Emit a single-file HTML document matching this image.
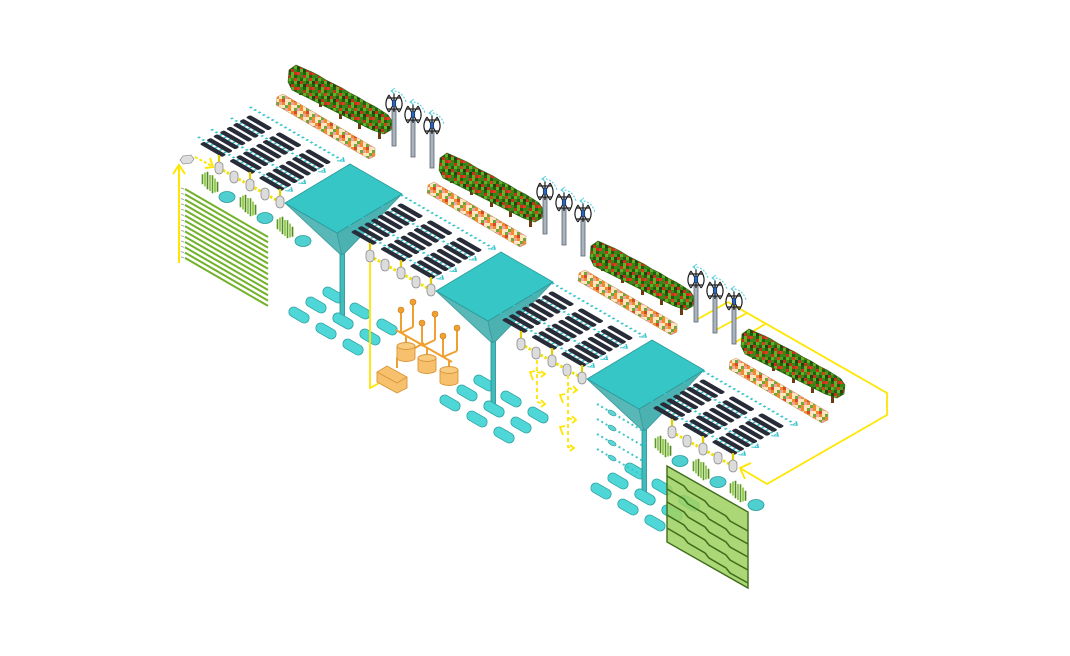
<!DOCTYPE html>
<html><head><meta charset="utf-8">
<style>html,body{margin:0;padding:0;background:#fff;}svg{display:block}</style>
</head>
<body>
<svg width="1070" height="656" viewBox="0 0 1070 656" xmlns="http://www.w3.org/2000/svg" xmlns:xlink="http://www.w3.org/1999/xlink">
<defs>
  <pattern id="hp" width="15" height="15" patternUnits="userSpaceOnUse">
    <rect width="15" height="15" fill="#3a8616"/>
    <rect x="3" y="0" width="3" height="3" fill="#c8321c"/>
    <rect x="6" y="0" width="3" height="3" fill="#62b026"/>
    <rect x="9" y="0" width="3" height="3" fill="#245e0e"/>
    <rect x="0" y="3" width="3" height="3" fill="#245e0e"/>
    <rect x="3" y="3" width="3" height="3" fill="#62b026"/>
    <rect x="9" y="3" width="3" height="3" fill="#d8401f"/>
    <rect x="12" y="3" width="3" height="3" fill="#4f9c1e"/>
    <rect x="0" y="6" width="3" height="3" fill="#c8321c"/>
    <rect x="6" y="6" width="3" height="3" fill="#245e0e"/>
    <rect x="9" y="6" width="3" height="3" fill="#62b026"/>
    <rect x="12" y="6" width="3" height="3" fill="#1d470b"/>
    <rect x="0" y="9" width="3" height="3" fill="#62b026"/>
    <rect x="3" y="9" width="3" height="3" fill="#1d470b"/>
    <rect x="6" y="9" width="3" height="3" fill="#c8321c"/>
    <rect x="12" y="9" width="3" height="3" fill="#245e0e"/>
    <rect x="3" y="12" width="3" height="3" fill="#245e0e"/>
    <rect x="6" y="12" width="3" height="3" fill="#62b026"/>
    <rect x="9" y="12" width="3" height="3" fill="#c8321c"/>
    <rect x="12" y="12" width="3" height="3" fill="#d8401f"/>
  </pattern>
  <pattern id="fp" width="12" height="12" patternUnits="userSpaceOnUse">
    <rect width="12" height="12" fill="#fbe6c0"/>
    <rect x="0" y="0" width="3" height="3" fill="#f08a2c"/>
    <rect x="6" y="0" width="3" height="3" fill="#6fa83a"/>
    <rect x="9" y="0" width="3" height="3" fill="#f2a1a1"/>
    <rect x="3" y="3" width="3" height="3" fill="#f08a2c"/>
    <rect x="6" y="3" width="3" height="3" fill="#d9482b"/>
    <rect x="0" y="6" width="3" height="3" fill="#6fa83a"/>
    <rect x="3" y="6" width="3" height="3" fill="#f2a1a1"/>
    <rect x="6" y="6" width="3" height="3" fill="#f08a2c"/>
    <rect x="0" y="9" width="3" height="3" fill="#f08a2c"/>
    <rect x="9" y="9" width="3" height="3" fill="#6fa83a"/>
  </pattern>

  <g id="hedge">
    <rect x="299" y="88" width="3" height="7" fill="#6b3a12"/>
    <rect x="319" y="100" width="3" height="7" fill="#6b3a12"/>
    <rect x="339" y="111" width="3" height="8" fill="#6b3a12"/>
    <rect x="358" y="121" width="3" height="8" fill="#6b3a12"/>
    <rect x="378" y="131" width="3" height="8" fill="#6b3a12"/>
    <polygon points="289,70 296,65 305,69 312,72 318,75 326,80 334,84 342,88 350,93 358,97 366,102 374,106 382,111 388,115 392,121 391,130 384,134 372,130 360,124 348,118 336,112 324,106 312,100 300,94 292,90 288,82" fill="url(#hp)" stroke="#2c5e10" stroke-width="0.6"/>
  </g>
  <g id="flower">
    <polygon points="277,97 283,94 375,148 375,156 369,159 276,105" fill="url(#fp)" stroke="#c99060" stroke-width="0.5"/>
  </g>

  <g id="tb">
    <rect x="-2" y="6" width="4" height="36" fill="#a9b4bf" stroke="#5d6670" stroke-width="0.8"/>
    <path d="M-5,-9 C-9,-3 -9,3 -5,8 M5,-9 C9,-3 9,3 5,8 M0,-11 L0,8 M-7,-6 L7,-6 M-7,5 L7,5 M-5,-9 L5,8 M5,-9 L-5,8" stroke="#1e1e1e" stroke-width="1.2" fill="none"/>
    <rect x="-1.8" y="-4" width="3.6" height="7" fill="#2a66c0" stroke="#111" stroke-width="0.5"/>
    <path d="M-3,-13 Q8,-14 12,-2" stroke="#5fd0dc" stroke-width="1.2" stroke-dasharray="2 1.6" fill="none"/>
    <polyline points="1,-16 -3,-13 1,-10" stroke="#5fd0dc" stroke-width="1" fill="none"/>
  </g>
  <g id="tbs">
    <use xlink:href="#tb" transform="translate(394,104)"/>
    <use xlink:href="#tb" transform="translate(413,115)"/>
    <use xlink:href="#tb" transform="translate(432,126)"/>
  </g>

  <g id="fun">
    <polygon points="285,203 337,233 342,256" fill="#58b7b7" stroke="#3a9a9a" stroke-width="0.8"/>
    <polygon points="337,233 402,194 342,256" fill="#4cb1b1" stroke="#3a9a9a" stroke-width="0.8"/>
    <polygon points="285,203 350,164 402,194 337,233" fill="#36c6c6" stroke="#2a9a9a" stroke-width="0.8"/>
    <rect x="340" y="254" width="4.5" height="67" fill="#3fbcbc" stroke="#2a8c8c" stroke-width="0.8"/>
  </g>

  <g id="cp"><rect x="-11" y="-5" width="22" height="10" rx="5" fill="#4fd6d6" stroke="#2ea3a3" stroke-width="0.8"/></g>
  <g id="caps">
    <use xlink:href="#cp" transform="translate(299,315) rotate(30)"/>
    <use xlink:href="#cp" transform="translate(316,305) rotate(30)"/>
    <use xlink:href="#cp" transform="translate(333,295) rotate(30)"/>
    <use xlink:href="#cp" transform="translate(326,331) rotate(30)"/>
    <use xlink:href="#cp" transform="translate(343,321) rotate(30)"/>
    <use xlink:href="#cp" transform="translate(360,311) rotate(30)"/>
    <use xlink:href="#cp" transform="translate(353,347) rotate(30)"/>
    <use xlink:href="#cp" transform="translate(370,337) rotate(30)"/>
    <use xlink:href="#cp" transform="translate(387,327) rotate(30)"/>
  </g>

  <g id="arr" transform="matrix(0.866 0.5 -0.866 0.5 250 115)">
    <g stroke="#35c4cb" stroke-width="2.4" stroke-dasharray="2 3" fill="none">
      <line x1="-8" y1="-8" x2="98" y2="-8"/>
      <line x1="-8" y1="13.9" x2="98" y2="13.9"/>
      <line x1="-8" y1="36.7" x2="98" y2="36.7"/>
      <line x1="-8" y1="51.9" x2="98" y2="51.9"/>
    </g>
    <g stroke="#35c4cb" stroke-width="1.3" fill="none">
      <polyline points="96,-11.5 100.5,-8 96,-4.5"/>
      <polyline points="96,10.4 100.5,13.9 96,17.4"/>
      <polyline points="96,33.2 100.5,36.7 96,40.2"/>
      <polyline points="96,48.4 100.5,51.9 96,55.4"/>
    </g>
    <g fill="#272c38">
      <rect x="0" y="0" width="26" height="5" rx="1.8"/>
      <rect x="0" y="7.6" width="26" height="5" rx="1.8"/>
      <rect x="0" y="15.2" width="26" height="5" rx="1.8"/>
      <rect x="0" y="22.8" width="26" height="5" rx="1.8"/>
      <rect x="0" y="30.4" width="26" height="5" rx="1.8"/>
      <rect x="0" y="38" width="26" height="5" rx="1.8"/>
      <rect x="0" y="45.6" width="26" height="5" rx="1.8"/>
      <rect x="0" y="53.2" width="26" height="5" rx="1.8"/>
      <rect x="34" y="0" width="26" height="5" rx="1.8"/>
      <rect x="34" y="7.6" width="26" height="5" rx="1.8"/>
      <rect x="34" y="15.2" width="26" height="5" rx="1.8"/>
      <rect x="34" y="22.8" width="26" height="5" rx="1.8"/>
      <rect x="34" y="30.4" width="26" height="5" rx="1.8"/>
      <rect x="34" y="38" width="26" height="5" rx="1.8"/>
      <rect x="34" y="45.6" width="26" height="5" rx="1.8"/>
      <rect x="34" y="53.2" width="26" height="5" rx="1.8"/>
      <rect x="68" y="0" width="26" height="5" rx="1.8"/>
      <rect x="68" y="7.6" width="26" height="5" rx="1.8"/>
      <rect x="68" y="15.2" width="26" height="5" rx="1.8"/>
      <rect x="68" y="22.8" width="26" height="5" rx="1.8"/>
      <rect x="68" y="30.4" width="26" height="5" rx="1.8"/>
      <rect x="68" y="38" width="26" height="5" rx="1.8"/>
      <rect x="68" y="45.6" width="26" height="5" rx="1.8"/>
      <rect x="68" y="53.2" width="26" height="5" rx="1.8"/>
    </g>
  </g>

  <g id="nd">
    <line x1="219" y1="168" x2="280" y2="202" stroke="#f2e200" stroke-width="3" stroke-dasharray="2.5 2"/>
    <g stroke="#e2cf00" stroke-width="2.2">
      <line x1="219" y1="155" x2="219" y2="168"/>
      <line x1="250" y1="172" x2="250" y2="185"/>
      <line x1="280" y1="189" x2="280" y2="202"/>
    </g>
    <g fill="#dcdcdc" stroke="#8c8c8c" stroke-width="0.8">
      <rect x="215" y="162" width="8" height="12" rx="4"/>
      <rect x="230" y="171" width="8" height="12" rx="4"/>
      <rect x="246" y="179" width="8" height="12" rx="4"/>
      <rect x="261" y="188" width="8" height="12" rx="4"/>
      <rect x="276" y="196" width="8" height="12" rx="4"/>
    </g>
  </g>

  <g id="pl">
    <line x1="-7.5" y1="-8.75" x2="-7.5" y2="1.25" stroke="#5c9a26" stroke-width="1.7"/>
    <line x1="-5" y1="-10.5" x2="-5" y2="3.5" stroke="#8cc63f" stroke-width="1.7"/>
    <line x1="-2.5" y1="-11.25" x2="-2.5" y2="6.25" stroke="#4e8a1e" stroke-width="1.7"/>
    <line x1="0" y1="-8" x2="0" y2="8" stroke="#8cc63f" stroke-width="1.7"/>
    <line x1="2.5" y1="-7.75" x2="2.5" y2="10.25" stroke="#5c9a26" stroke-width="1.7"/>
    <line x1="5" y1="-4.5" x2="5" y2="9.5" stroke="#8cc63f" stroke-width="1.7"/>
    <line x1="7.5" y1="-1.25" x2="7.5" y2="8.75" stroke="#4e8a1e" stroke-width="1.7"/>
  </g>
  <g id="pp">
    <use xlink:href="#pl" transform="translate(210,183)"/>
    <use xlink:href="#pl" transform="translate(248,206)"/>
    <use xlink:href="#pl" transform="translate(285,228)"/>
    <g fill="#4fcfcf" stroke="#2a9d9d" stroke-width="0.8">
      <ellipse cx="227" cy="197" rx="8" ry="5.5"/>
      <ellipse cx="265" cy="218" rx="8" ry="5.5"/>
      <ellipse cx="303" cy="241" rx="8" ry="5.5"/>
    </g>
  </g>
</defs>

<!-- yellow loop (module 3) -->
<g stroke="#ffe600" stroke-width="1.8" fill="none">
  <line x1="698" y1="319" x2="728" y2="302"/>
  <line x1="716" y1="330" x2="747" y2="313"/>
  <line x1="736" y1="342" x2="765" y2="324"/>
  <polyline points="728,302 887,393 887,415 767,484 740,468"/>
  <polyline points="751,463 740,468 745,479"/>
</g>

<!-- hedges, flower strips -->
<use xlink:href="#hedge"/>
<use xlink:href="#hedge" transform="translate(151,88)"/>
<use xlink:href="#hedge" transform="translate(302,176)"/>
<use xlink:href="#hedge" transform="translate(453,264)"/>
<use xlink:href="#flower"/>
<use xlink:href="#flower" transform="translate(151,88)"/>
<use xlink:href="#flower" transform="translate(302,176)"/>
<use xlink:href="#flower" transform="translate(453,264)"/>

<!-- turbines -->
<use xlink:href="#tbs"/>
<use xlink:href="#tbs" transform="translate(151,88)"/>
<use xlink:href="#tbs" transform="translate(302,176)"/>

<!-- capsule grids + funnels -->
<use xlink:href="#caps"/>
<use xlink:href="#caps" transform="translate(151,88)"/>
<use xlink:href="#caps" transform="translate(302,176)"/>
<use xlink:href="#fun"/>
<use xlink:href="#fun" transform="translate(151,88)"/>
<use xlink:href="#fun" transform="translate(302,176)"/>
<g>
  <use xlink:href="#cp" transform="translate(343,321) rotate(30)"/>
  <use xlink:href="#cp" transform="translate(494,409) rotate(30)"/>
  <use xlink:href="#cp" transform="translate(645,497) rotate(30)"/>
</g>

<!-- solar arrays -->
<use xlink:href="#arr"/>
<use xlink:href="#arr" transform="translate(151,88)"/>
<use xlink:href="#arr" transform="translate(302,176)"/>
<use xlink:href="#arr" transform="translate(453,264)"/>

<!-- nodes -->
<use xlink:href="#nd"/>
<use xlink:href="#nd" transform="translate(151,88)"/>
<use xlink:href="#nd" transform="translate(302,176)"/>
<use xlink:href="#nd" transform="translate(453,264)"/>

<!-- plants/ponds -->
<use xlink:href="#pp"/>
<use xlink:href="#pp" transform="translate(453,264)"/>

<!-- left hatch panel -->
<g stroke="#72b22a" stroke-width="2">
  <line x1="185" y1="189" x2="268" y2="237"/>
  <line x1="185" y1="194.3" x2="268" y2="242.3"/>
  <line x1="185" y1="199.6" x2="268" y2="247.6"/>
  <line x1="185" y1="204.9" x2="268" y2="252.9"/>
  <line x1="185" y1="210.2" x2="268" y2="258.2"/>
  <line x1="185" y1="215.5" x2="268" y2="263.5"/>
  <line x1="185" y1="220.8" x2="268" y2="268.8"/>
  <line x1="185" y1="226.1" x2="268" y2="274.1"/>
  <line x1="185" y1="231.4" x2="268" y2="279.4"/>
  <line x1="185" y1="236.7" x2="268" y2="284.7"/>
  <line x1="185" y1="242" x2="268" y2="290"/>
  <line x1="185" y1="247.3" x2="268" y2="295.3"/>
  <line x1="185" y1="252.6" x2="268" y2="300.6"/>
  <line x1="185" y1="257.9" x2="268" y2="305.9"/>
</g>
<g stroke="#aaaaaa" stroke-width="1">
  <line x1="181" y1="188" x2="184" y2="189"/><line x1="181" y1="193.3" x2="184" y2="194.3"/>
  <line x1="181" y1="198.6" x2="184" y2="199.6"/><line x1="181" y1="203.9" x2="184" y2="204.9"/>
  <line x1="181" y1="209.2" x2="184" y2="210.2"/><line x1="181" y1="214.5" x2="184" y2="215.5"/>
  <line x1="181" y1="219.8" x2="184" y2="220.8"/><line x1="181" y1="225.1" x2="184" y2="226.1"/>
  <line x1="181" y1="230.4" x2="184" y2="231.4"/><line x1="181" y1="235.7" x2="184" y2="236.7"/>
  <line x1="181" y1="241" x2="184" y2="242"/><line x1="181" y1="246.3" x2="184" y2="247.3"/>
  <line x1="181" y1="251.6" x2="184" y2="252.6"/><line x1="181" y1="256.9" x2="184" y2="257.9"/>
</g>
<g stroke="#ffe600" stroke-width="2" fill="none">
  <line x1="179" y1="263" x2="179" y2="166"/>
  <polyline points="173,174 179,165 185,174"/>
  <line x1="195" y1="157" x2="212" y2="166" stroke-dasharray="3 2"/>
  <polyline points="205,168 213,167 210,158"/>
</g>
<polygon points="180,160 183,156 191,155 194,159 191,163 183,164" fill="#dedede" stroke="#999" stroke-width="0.8"/>

<!-- yellow line to orange box -->
<polyline points="370,262 370,388 383,381" stroke="#ffe600" stroke-width="1.8" fill="none"/>

<!-- orange assembly -->
<g stroke="#f0a030" stroke-width="2" fill="none">
  <line x1="401" y1="312" x2="401" y2="333"/>
  <line x1="413" y1="304" x2="413" y2="327"/>
  <line x1="422" y1="325" x2="422" y2="346"/>
  <line x1="435" y1="316" x2="435" y2="340"/>
  <line x1="443" y1="338" x2="443" y2="357"/>
  <line x1="457" y1="330" x2="457" y2="351"/>
  <line x1="401" y1="333" x2="413" y2="327"/>
  <line x1="422" y1="346" x2="435" y2="340"/>
  <line x1="443" y1="357" x2="457" y2="351"/>
  <line x1="396" y1="330" x2="452" y2="362"/>
  <line x1="406" y1="347" x2="406" y2="336"/>
  <line x1="427" y1="359" x2="427" y2="348"/>
  <line x1="449" y1="371" x2="449" y2="361"/>
  <polyline points="397,368 397,358 424,343"/>
</g>
<g fill="#f0a030" stroke="#c77d1a" stroke-width="0.6">
  <circle cx="401" cy="310" r="3"/><circle cx="413" cy="302" r="3"/>
  <circle cx="422" cy="323" r="3"/><circle cx="435" cy="314" r="3"/>
  <circle cx="443" cy="336" r="3"/><circle cx="457" cy="328" r="3"/>
</g>
<g fill="#f6c06c" stroke="#d9963a" stroke-width="0.9">
  <path d="M397,346 L397,358 A9,3.5 0 0 0 415,358 L415,346 Z"/>
  <ellipse cx="406" cy="346" rx="9" ry="3.5" fill="#f8cb80"/>
  <path d="M418,358 L418,370 A9,3.5 0 0 0 436,370 L436,358 Z"/>
  <ellipse cx="427" cy="358" rx="9" ry="3.5" fill="#f8cb80"/>
  <path d="M440,370 L440,382 A9,3.5 0 0 0 458,382 L458,370 Z"/>
  <ellipse cx="449" cy="370" rx="9" ry="3.5" fill="#f8cb80"/>
  <polygon points="377,372 387,366 407,377 407,388 397,393 377,382"/>
  <polyline points="377,372 397,383 407,377 M397,383 L397,393" fill="none"/>
</g>

<!-- module 2 yellow dashed arrows -->
<g stroke="#ffe600" stroke-width="1.8" fill="none">
  <g stroke-dasharray="4 3">
    <polyline points="537,360 537,402 544,404"/>
    <line x1="537" y1="372" x2="544" y2="374"/>
    <polyline points="568,375 568,447 573,448"/>
    <line x1="568" y1="388" x2="576" y2="390"/>
    <line x1="568" y1="418" x2="575" y2="420"/>
  </g>
  <polyline points="541,400 545,404 541,407"/>
  <polyline points="541,371 545,374 541,377"/>
  <polyline points="570,445 574,448 570,451"/>
  <polyline points="573,386 577,390 573,393"/>
  <polyline points="572,416 576,420 572,423"/>
  <polyline points="533,380 530,372 535,371"/>
  <polyline points="563,403 560,395 565,394"/>
  <polyline points="563,435 560,427 565,426"/>
</g>

<!-- module 3 cyan dotted flows -->
<g stroke="#3cc6cc" stroke-width="2" stroke-dasharray="2 3">
  <line x1="597" y1="404" x2="643" y2="431"/>
  <line x1="597" y1="419" x2="643" y2="446"/>
  <line x1="597" y1="434" x2="643" y2="461"/>
  <line x1="597" y1="449" x2="643" y2="476"/>
</g>
<g fill="#5fd3d3" stroke="#2aa0a0" stroke-width="0.6">
  <ellipse cx="0" cy="0" rx="4.5" ry="2.2" transform="translate(612,413) rotate(30)"/>
  <ellipse cx="0" cy="0" rx="4.5" ry="2.2" transform="translate(612,428) rotate(30)"/>
  <ellipse cx="0" cy="0" rx="4.5" ry="2.2" transform="translate(612,443) rotate(30)"/>
  <ellipse cx="0" cy="0" rx="4.5" ry="2.2" transform="translate(612,458) rotate(30)"/>
</g>

<!-- green wall -->
<polygon points="667,466 748,512 748,588 667,542" fill="#9fd163" fill-opacity="0.87" stroke="#3f6e1a" stroke-width="1.4"/>
<g stroke="#3f6e1a" stroke-width="1.5" fill="none">
  <polyline points="667,476 684,486 688,491 705,501 709,506 726,516 730,521 748,531"/>
  <polyline points="667,489 684,499 688,504 705,514 709,519 726,529 730,534 748,544"/>
  <polyline points="667,502 684,512 688,517 705,527 709,532 726,542 730,547 748,557"/>
  <polyline points="667,515 684,525 688,530 705,540 709,545 726,555 730,560 748,570"/>
  <polyline points="667,528 684,538 688,543 705,553 709,558 726,568 730,573 748,583"/>
</g>
</svg>
</body></html>
